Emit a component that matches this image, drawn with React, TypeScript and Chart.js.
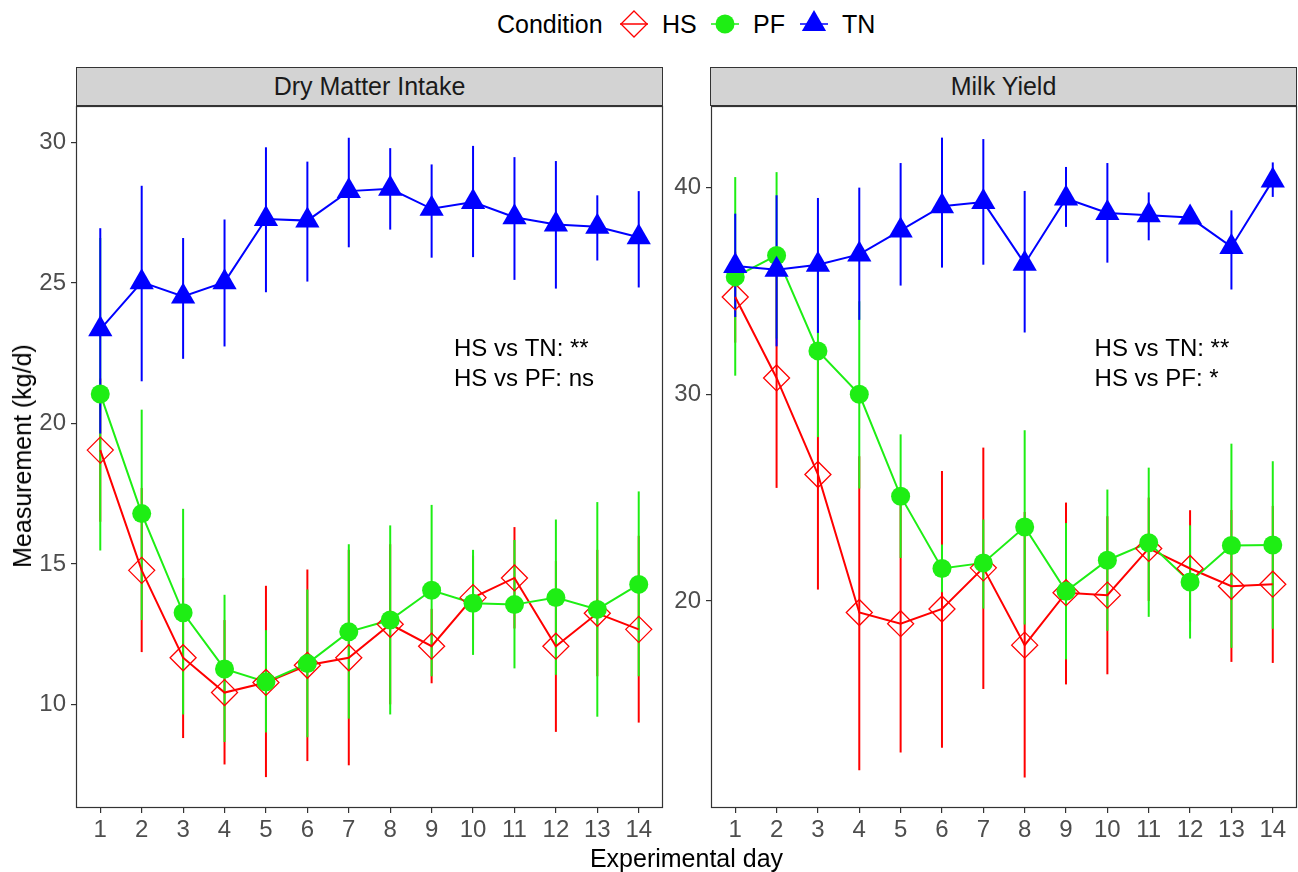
import React, { useEffect, useRef } from "react";
import { Chart, registerables } from "chart.js";

Chart.register(...registerables);

const FONT = "'Liberation Sans', Arial, Helvetica, sans-serif";

// ---------- data ----------
const DAYS = [1, 2, 3, 4, 5, 6, 7, 8, 9, 10, 11, 12, 13, 14];
const CONDITIONS = ["HS", "PF", "TN"];
const PANEL_TITLES = ["Dry Matter Intake", "Milk Yield"];

// Dry Matter Intake
const DMI_HS = [19.05, 14.77, 11.66, 10.42, 10.78, 11.39, 11.66, 12.85, 12.07, 13.8, 14.5, 12.07, 13.24, 12.67];
const DMI_HS_LO = [16.5, 11.86, 8.8, 7.86, 7.41, 7.98, 7.83, 10.0, 10.75, 12.3, 12.7, 9.02, 11.0, 9.35];
const DMI_HS_HI = [21.6, 17.7, 14.5, 13.0, 14.22, 14.8, 15.5, 15.7, 13.4, 15.3, 16.31, 15.1, 15.5, 16.0];
const DMI_PF = [21.05, 16.79, 13.26, 11.26, 10.8, 11.45, 12.58, 13.0, 14.06, 13.6, 13.55, 13.8, 13.38, 14.27];
const DMI_PF_LO = [15.48, 13.0, 9.64, 8.66, 9.0, 8.83, 9.49, 9.64, 11.0, 11.76, 11.28, 11.05, 9.56, 11.0];
const DMI_PF_HI = [26.6, 20.49, 16.96, 13.9, 12.64, 14.09, 15.7, 16.37, 17.1, 15.5, 15.85, 16.58, 17.2, 17.58];
const DMI_TN = [23.35, 25.03, 24.52, 25.03, 27.28, 27.22, 28.27, 28.35, 27.64, 27.88, 27.34, 27.08, 27.0, 26.63];
const DMI_TN_LO = [19.64, 21.5, 22.3, 22.74, 24.67, 25.05, 26.27, 26.9, 25.9, 25.92, 25.11, 24.8, 25.8, 24.84];
const DMI_TN_HI = [26.95, 28.46, 26.6, 27.26, 29.83, 29.32, 30.17, 29.8, 29.22, 29.88, 29.48, 29.34, 28.12, 28.27];
const DMI_TICKS = [10, 15, 20, 25, 30];
const DMI_ANNOT = ["HS vs TN: **", "HS vs PF: ns"];

// Milk Yield
const MY_HS = [34.71, 30.79, 26.12, 19.44, 18.9, 19.61, 21.6, 17.86, 20.4, 20.28, 22.54, 21.57, 20.71, 20.81];
const MY_HS_LO = [32.5, 25.47, 20.55, 11.81, 12.67, 12.9, 15.74, 11.46, 15.96, 16.45, 20.0, 19.0, 17.05, 17.0];
const MY_HS_HI = [36.9, 36.1, 31.7, 27.0, 25.1, 26.29, 27.42, 24.3, 24.76, 24.1, 25.0, 24.39, 24.4, 24.6];
const MY_PF = [35.68, 36.72, 32.1, 30.0, 25.07, 21.57, 21.84, 23.58, 20.47, 21.97, 22.82, 20.92, 22.68, 22.71];
const MY_PF_LO = [30.9, 32.7, 27.93, 25.44, 22.08, 20.42, 19.63, 18.86, 17.17, 18.55, 19.23, 18.18, 17.73, 18.65];
const MY_PF_HI = [40.51, 40.75, 36.27, 34.5, 28.06, 22.73, 23.94, 28.26, 23.77, 25.39, 26.45, 23.66, 27.61, 26.76];
const MY_TN = [36.21, 36.03, 36.27, 36.77, 37.93, 39.1, 39.3, 36.32, 39.47, 38.77, 38.66, 38.55, 37.13, 40.35];
const MY_TN_LO = [33.74, 32.32, 32.97, 33.6, 35.26, 36.13, 36.27, 32.99, 38.1, 36.37, 37.45, 38.3, 35.07, 39.55];
const MY_TN_HI = [38.74, 39.63, 39.5, 40.0, 41.19, 42.42, 42.35, 39.84, 41.0, 41.19, 39.77, 38.8, 38.9, 41.22];
const MY_TICKS = [20, 30, 40];
const MY_ANNOT = ["HS vs TN: **", "HS vs PF: *"];

// ---------- styles ----------
const COLORS = { HS: "#FF0000", PF: "#1EEE14", TN: "#0000FF" };
const X_MIN = 0.414;
const X_MAX = 14.586;

const errPlugin = {
  id: "errbars",
  beforeDatasetsDraw(chart: any, _a: any, opts: any) {
    const { ctx, scales } = chart;
    const x = scales.x;
    const y = scales.y;
    ctx.save();
    for (const s of opts.series) {
      ctx.strokeStyle = s.color;
      ctx.lineWidth = 2;
      DAYS.forEach((d, i) => {
        const px = x.getPixelForValue(d);
        ctx.beginPath();
        ctx.moveTo(px, y.getPixelForValue(s.lo[i]));
        ctx.lineTo(px, y.getPixelForValue(s.hi[i]));
        ctx.stroke();
      });
    }
    ctx.restore();
  },
  afterDraw(chart: any, _a: any, opts: any) {
    const { ctx, chartArea, scales } = chart;
    ctx.save();
    ctx.strokeStyle = "#333333";
    ctx.lineWidth = 1.2;
    ctx.strokeRect(
      Math.round(chartArea.left) + 0.5,
      Math.round(chartArea.top) + 0.5,
      Math.round(chartArea.right - chartArea.left) - 1,
      Math.round(chartArea.bottom - chartArea.top) - 1
    );
    ctx.fillStyle = "#000000";
    ctx.font = `24px ${FONT}`;
    ctx.textAlign = "left";
    ctx.textBaseline = "middle";
    const px = scales.x.getPixelForValue(opts.annotX);
    const py = scales.y.getPixelForValue(opts.annotY);
    opts.annot.forEach((t: string, i: number) => {
      ctx.fillText(t, px, py + i * 30);
    });
    ctx.restore();
  },
};

type PanelProps = {
  left: number;
  width: number;
  yAxisWidth: number;
  yMin: number;
  yMax: number;
  yTicks: number[];
  hs: number[]; hsLo: number[]; hsHi: number[];
  pf: number[]; pfLo: number[]; pfHi: number[];
  tn: number[]; tnLo: number[]; tnHi: number[];
  annot: string[];
  annotX: number;
  annotY: number;
};

function pts(vals: number[]) {
  return DAYS.map((d, i) => ({ x: d, y: vals[i] }));
}

function PanelChart(p: PanelProps) {
  const ref = useRef<HTMLCanvasElement>(null);
  useEffect(() => {
    if (!ref.current) return;
    const lineDs = (label: string, vals: number[], color: string, order: number) => ({
      label,
      data: pts(vals),
      borderColor: color,
      backgroundColor: color,
      borderWidth: 2,
      pointRadius: 0,
      tension: 0,
      order,
    });
    const chart = new Chart(ref.current, {
      type: "line",
      data: {
        datasets: [
          lineDs("HS-line", p.hs, COLORS.HS, 13),
          lineDs("PF-line", p.pf, COLORS.PF, 12),
          lineDs("TN-line", p.tn, COLORS.TN, 11),
          {
            label: "HS",
            data: pts(p.hs),
            showLine: false,
            pointStyle: "rectRot",
            pointRadius: 13,
            pointBorderWidth: 1.3,
            pointBorderColor: COLORS.HS,
            pointBackgroundColor: "rgba(0,0,0,0)",
            borderColor: COLORS.HS,
            backgroundColor: "rgba(0,0,0,0)",
            order: 3,
          },
          {
            label: "PF",
            data: pts(p.pf),
            showLine: false,
            pointStyle: "circle",
            pointRadius: 9.5,
            pointBorderWidth: 0,
            pointBorderColor: COLORS.PF,
            pointBackgroundColor: COLORS.PF,
            borderColor: COLORS.PF,
            backgroundColor: COLORS.PF,
            order: 2,
          },
          {
            label: "TN",
            data: pts(p.tn),
            showLine: false,
            pointStyle: "triangle",
            pointRadius: 14,
            pointBorderWidth: 0,
            pointBorderColor: COLORS.TN,
            pointBackgroundColor: COLORS.TN,
            borderColor: COLORS.TN,
            backgroundColor: COLORS.TN,
            order: 1,
          },
        ] as any,
      },
      options: {
        animation: false,
        responsive: false,
        maintainAspectRatio: false,
        devicePixelRatio: 1,
        events: [],
        layout: { autoPadding: false, padding: { top: 106, right: 1, left: 0, bottom: 0 } },
        plugins: {
          legend: { display: false },
          tooltip: { enabled: false },
          title: { display: false },
          errbars: {
            series: [
              { color: COLORS.HS, lo: p.hsLo, hi: p.hsHi },
              { color: COLORS.PF, lo: p.pfLo, hi: p.pfHi },
              { color: COLORS.TN, lo: p.tnLo, hi: p.tnHi },
            ],
            annot: p.annot,
            annotX: p.annotX,
            annotY: p.annotY,
          },
        } as any,
        scales: {
          x: {
            type: "linear",
            min: X_MIN,
            max: X_MAX,
            afterBuildTicks: (s: any) => {
              s.ticks = DAYS.map((v) => ({ value: v }));
            },
            afterFit: (s: any) => {
              s.height = 64;
              s.paddingLeft = 0;
              s.paddingRight = 0;
            },
            grid: {
              drawOnChartArea: false,
              drawTicks: true,
              tickLength: 5,
              color: "#333333",
              lineWidth: 1.2,
            },
            border: { display: false },
            ticks: {
              autoSkip: false,
              maxRotation: 0,
              padding: 3,
              color: "#4D4D4D",
              font: { family: FONT, size: 24 },
              callback: (v: any) => String(v),
            },
          },
          y: {
            type: "linear",
            min: p.yMin,
            max: p.yMax,
            afterBuildTicks: (s: any) => {
              s.ticks = p.yTicks.map((v) => ({ value: v }));
            },
            afterFit: (s: any) => {
              s.width = p.yAxisWidth;
              s.paddingTop = 0;
              s.paddingBottom = 0;
            },
            grid: {
              drawOnChartArea: false,
              drawTicks: true,
              tickLength: 5,
              color: "#333333",
              lineWidth: 1.2,
            },
            border: { display: false },
            ticks: {
              padding: 5,
              color: "#4D4D4D",
              font: { family: FONT, size: 24 },
              callback: (v: any) => String(v),
            },
          },
        },
      } as any,
      plugins: [errPlugin as any],
    });
    return () => chart.destroy();
  }, []);
  return (
    <canvas
      ref={ref}
      width={p.width}
      height={872}
      style={{ position: "absolute", left: p.left, top: 0, width: p.width, height: 872, display: "block" }}
    />
  );
}

function Strip({ left, width, text }: { left: number; width: number; text: string }) {
  return (
    <div
      style={{
        position: "absolute",
        left,
        top: 67,
        width,
        height: 39,
        boxSizing: "border-box",
        background: "#D3D3D3",
        border: "1.2px solid #333333",
        display: "flex",
        alignItems: "center",
        justifyContent: "center",
        fontSize: 25,
        color: "#1A1A1A",
        fontFamily: FONT,
      }}
    >
      {text}
    </div>
  );
}

function KeyIcon({ cond }: { cond: string }) {
  const c = (COLORS as any)[cond];
  return (
    <svg width={28} height={30} style={{ display: "block" }}>
      <line x1={0} y1={15} x2={28} y2={15} stroke={c} strokeWidth={1.5} />
      {cond === "HS" && <polygon points="14,2 27,15 14,28 1,15" fill="none" stroke={c} strokeWidth={1.3} />}
      {cond === "PF" && <circle cx={14} cy={15} r={9.5} fill={c} />}
      {cond === "TN" && <polygon points="14,1 26.1,22 1.9,22" fill={c} />}
    </svg>
  );
}

export default function App() {
  const text = (s: string, left: number, top: number, extra: any = {}) => (
    <div
      style={{
        position: "absolute",
        left,
        top,
        fontFamily: FONT,
        fontSize: 25,
        color: "#000",
        lineHeight: "30px",
        whiteSpace: "nowrap",
        ...extra,
      }}
    >
      {s}
    </div>
  );
  const keyLefts = [620, 711, 800];
  const labelLefts = [662, 753, 842];
  return (
    <div style={{ position: "fixed", left: 0, top: 0, width: 1298, height: 872, background: "#fff", overflow: "hidden" }}>
      {text("Condition", 497, 9)}
      {CONDITIONS.map((c, i) => (
        <React.Fragment key={c}>
          <div style={{ position: "absolute", left: keyLefts[i], top: 9 }}>
            <KeyIcon cond={c} />
          </div>
          {text(c, labelLefts[i], 9)}
        </React.Fragment>
      ))}
      <PanelChart
        left={0}
        width={664}
        yAxisWidth={76}
        yMin={6.31}
        yMax={31.3}
        yTicks={DMI_TICKS}
        hs={DMI_HS} hsLo={DMI_HS_LO} hsHi={DMI_HS_HI}
        pf={DMI_PF} pfLo={DMI_PF_LO} pfHi={DMI_PF_HI}
        tn={DMI_TN} tnLo={DMI_TN_LO} tnHi={DMI_TN_HI}
        annot={DMI_ANNOT}
        annotX={9.54}
        annotY={22.63}
      />
      <PanelChart
        left={663}
        width={635}
        yAxisWidth={48}
        yMin={9.98}
        yMax={43.95}
        yTicks={MY_TICKS}
        hs={MY_HS} hsLo={MY_HS_LO} hsHi={MY_HS_HI}
        pf={MY_PF} pfLo={MY_PF_LO} pfHi={MY_PF_HI}
        tn={MY_TN} tnLo={MY_TN_LO} tnHi={MY_TN_HI}
        annot={MY_ANNOT}
        annotX={9.69}
        annotY={32.18}
      />
      <Strip left={76} width={587} text={PANEL_TITLES[0]} />
      <Strip left={710} width={587} text={PANEL_TITLES[1]} />
      {text("Experimental day", 0, 843, { width: 1373, textAlign: "center" })}
      <div
        style={{
          position: "absolute",
          left: 22,
          top: 456,
          transform: "translate(-50%, -50%) rotate(-90deg)",
          fontFamily: FONT,
          fontSize: 25,
          color: "#000",
          whiteSpace: "nowrap",
          lineHeight: "30px",
        }}
      >
        Measurement (kg/d)
      </div>
    </div>
  );
}
